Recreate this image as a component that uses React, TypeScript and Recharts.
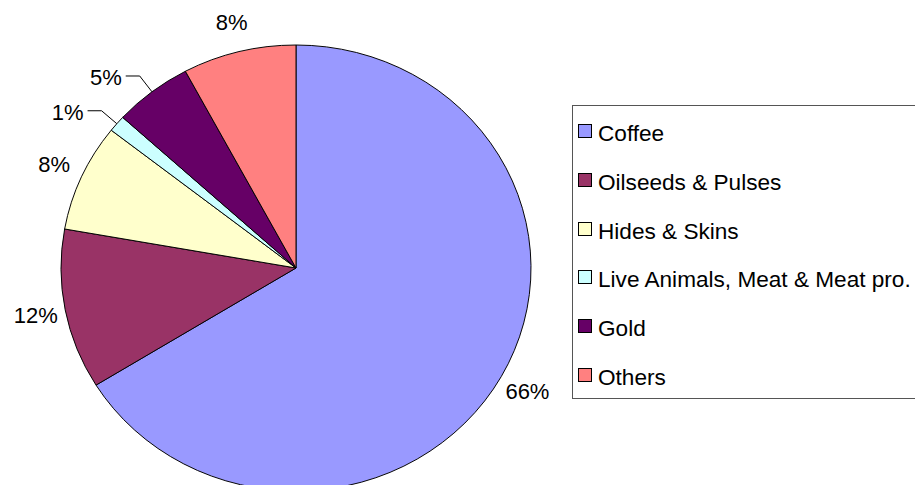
import React from 'react'
import { PieChart, Pie, Cell, Legend } from 'recharts'

const categories = [
  'Coffee',
  'Oilseeds & Pulses',
  'Hides & Skins',
  'Live Animals, Meat & Meat pro.',
  'Gold',
  'Others',
]
const shares = [66.2, 11.6, 7.8, 1.2, 5.4, 7.8]
const colors = ['#9999FF', '#993366', '#FFFFCC', '#CCFFFF', '#660066', '#FF8080']

const data = categories.map((name, i) => ({ name, value: shares[i] }))

const FONT = '"Liberation Sans", Arial, sans-serif'
const RAD = Math.PI / 180
const SQUASH = 223 / 235 // the reference pie is slightly flattened

function renderLabel(props: any) {
  const { cx, cy, midAngle, outerRadius, percent } = props
  const cos = Math.cos(-midAngle * RAD)
  const sin = Math.sin(-midAngle * RAD)
  const ex = cx + outerRadius * cos
  const ey = cy + outerRadius * SQUASH * sin
  const text = `${Math.round(percent * 100)}%`
  const left = cos < 0

  if (percent < 0.06) {
    const bx = ex + 20 * cos
    const by = ey + 20 * sin
    const hx = bx + (left ? -14 : 14)
    return (
      <g>
        <polyline points={`${ex},${ey} ${bx},${by} ${hx},${by}`} fill="none" stroke="#000" strokeWidth={1} />
        <text x={hx + (left ? -4 : 4)} y={by + 2} textAnchor={left ? 'end' : 'start'}
          dominantBaseline="central" fontSize={22} fontFamily={FONT} fill="#000">
          {text}
        </text>
      </g>
    )
  }

  return (
    <text x={ex + 30 * cos} y={ey + 30 * sin} textAnchor="middle" dominantBaseline="central"
      fontSize={22} fontFamily={FONT} fill="#000">
      {text}
    </text>
  )
}

// keep the legend in data order (Recharts 3 sorts the payload by name)
// the box runs off the right edge of the picture, so no right border
function renderLegend() {
  return (
    <div style={{
      position: 'relative', width: 400, height: 294, boxSizing: 'border-box',
      border: '1px solid #555', borderRight: 'none', background: '#fff', fontFamily: FONT,
    }}>
      {categories.map((name, i) => (
        <div key={name}>
          <div style={{
            position: 'absolute', left: 5, top: 18 + i * 48.8, width: 14, height: 14,
            boxSizing: 'border-box', border: '1px solid #000', background: colors[i],
          }} />
          <div style={{
            position: 'absolute', left: 25, top: 16 + i * 48.8, lineHeight: '24px',
            fontSize: 22.6, color: '#000', whiteSpace: 'nowrap',
          }}>
            {name}
          </div>
        </div>
      ))}
    </div>
  )
}

export default function App() {
  return (
    <div style={{ position: 'absolute', left: 0, top: 0, width: 915, height: 485, overflow: 'hidden', background: '#fff' }}>
      <style>{`.recharts-sector { transform: scaleY(${SQUASH}); transform-origin: 296px 268px; }`}</style>
      <PieChart width={915} height={485} margin={{ top: 0, right: 0, bottom: 0, left: 0 }}>
        <Pie
          data={data}
          dataKey="value"
          nameKey="name"
          cx={296}
          cy={268}
          outerRadius={235}
          startAngle={90}
          endAngle={-270}
          stroke="#000"
          strokeWidth={1}
          label={renderLabel}
          labelLine={false}
          isAnimationActive={false}
        >
          {data.map((d, i) => (
            <Cell key={d.name} fill={colors[i]} />
          ))}
        </Pie>
        <Legend
          content={renderLegend}
          wrapperStyle={{ position: 'absolute', left: 572, top: 105, width: 400, height: 294 }}
        />
      </PieChart>
    </div>
  )
}
